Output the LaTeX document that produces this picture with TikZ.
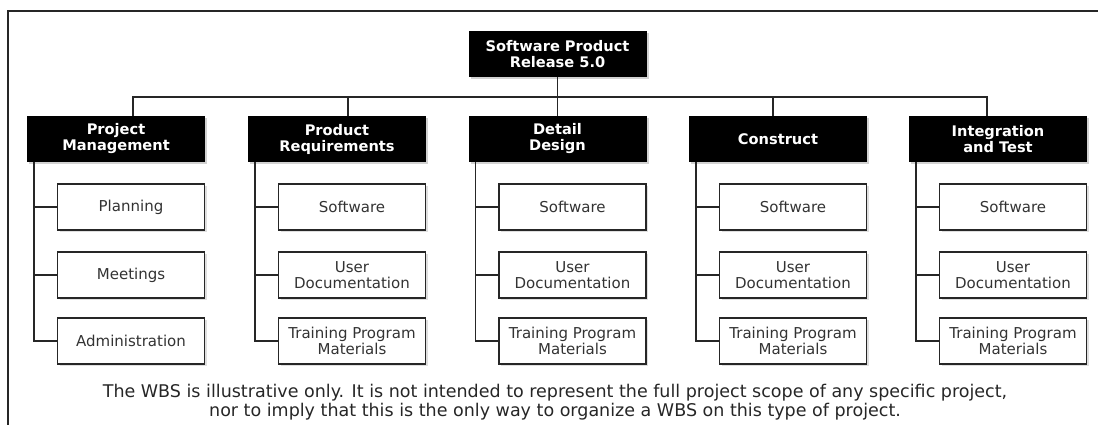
\documentclass[tikz,border=0pt]{standalone}
\usepackage{fontspec}
\setmainfont{DejaVu Sans}
\usetikzlibrary{shadows}
\begin{document}
\begin{tikzpicture}[x=1pt,y=-1pt]
			\tikzset{head/.style = {fill=black, text=white, font=\bfseries\fontsize{14.6}{16}\selectfont, align=center, minimum width=178pt, minimum height=46pt, inner sep=0pt, drop shadow={shadow xshift=2pt, shadow yshift=-2pt, fill=black!35}}}
			\tikzset{item/.style = {draw=black!85, line width=1.4pt, fill=white, text=black!80, font=\fontsize{15}{16}\selectfont, align=center, minimum width=147pt, minimum height=46pt, inner sep=0pt, drop shadow={shadow xshift=2pt, shadow yshift=-2pt, fill=black!25}}}
			\tikzset{link/.style = {draw=black!85, line width=1.6pt}}
			\useasboundingbox (0,0) rectangle (1098,425);
			% frame
			\draw[link, line width=2pt] (8,425) -- (8,11) -- (1098,11);
			% top levels
			\node[head] (root) at (557.5,54) {Software Product\\Release 5.0};
			\node[head] (pm) at (116,139) {Project\\Management};
			\node[head] (pr) at (337,139) {Product\\Requirements};
			\node[head] (dd) at (557.5,139) {Detail\\Design};
			\node[head] (co) at (778,139) {Construct};
			\node[head] (it) at (998,139) {Integration\\and Test};
			\coordinate (bus) at (557.5,97);
			\draw[link] ([xshift=17pt]pm.north) |- (bus) -| ([xshift=-11pt]it.north);
			\draw[link] ([xshift=11pt]pr.north) -- ([xshift=11pt]pr.north |- bus);
			\draw[link] ([xshift=-5pt]co.north) -- ([xshift=-5pt]co.north |- bus);
			\draw[link] (root.south) -- (dd.north);
			% work packages
			\node[item, anchor=north east] (pm1) at ([yshift=-21pt]pm.south east) {Planning};
			\node[item, anchor=north east] (pm2) at ([yshift=-89pt]pm.south east) {Meetings};
			\node[item, anchor=north east] (pm3) at ([yshift=-155pt]pm.south east) {Administration};
			\foreach \n in {pr,dd,co,it}{
				\node[item, anchor=north east] (\n1) at ([yshift=-21pt]\n.south east) {Software};
				\node[item, anchor=north east] (\n2) at ([yshift=-89pt]\n.south east) {User\\Documentation};
				\node[item, anchor=north east] (\n3) at ([yshift=-155pt]\n.south east) {Training Program\\Materials};
			}
			\foreach \n in {pm,pr,dd,co,it}{
				\coordinate (\n s) at ([xshift=7pt]\n.south west);
				\draw[link] (\n s) |- (\n3.west);
				\draw[link] (\n1.west) -- (\n1.west -| \n s);
				\draw[link] (\n2.west) -- (\n2.west -| \n s);
			}
			% note
			\node[text=black!85, font=\fontsize{17.5}{19}\selectfont, align=center] (note) at (555,402) {The WBS is illustrative only. It is not intended to represent the full project scope of any specific project,\\nor to imply that this is the only way to organize a WBS on this type of project.};
		\end{tikzpicture}
\end{document}
